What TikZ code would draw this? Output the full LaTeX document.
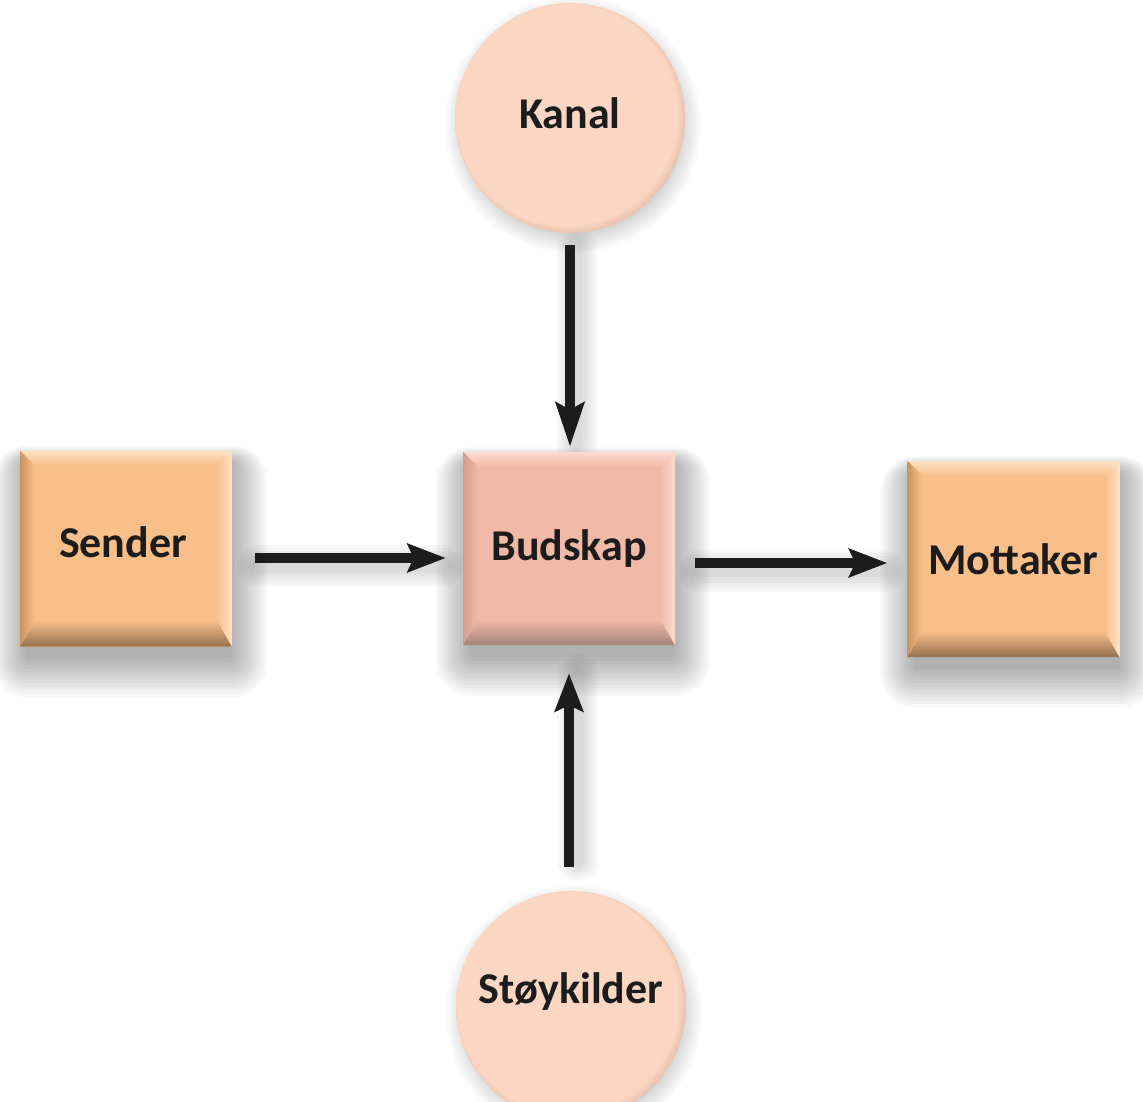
\documentclass[tikz,border=0pt]{standalone}
\usepackage{fontspec}
\setmainfont{Carlito}
\usetikzlibrary{arrows.meta,calc}

\definecolor{orfill}{HTML}{F9BF8A}
\definecolor{orlight}{HTML}{FDE2C6}
\definecolor{ordark}{HTML}{94704E}
\definecolor{orleft}{HTML}{C99461}
\definecolor{budfill}{HTML}{F2B9A7}
\definecolor{budlight}{HTML}{FADCD2}
\definecolor{buddark}{HTML}{A4857A}
\definecolor{budleft}{HTML}{D59D8B}
\definecolor{circfill}{HTML}{FBD7C3}
\definecolor{circrim}{HTML}{D9B5A2}
\definecolor{txt}{HTML}{1C1C1C}

\pgfdeclarelayer{bglayer}
\pgfdeclarelayer{shadowlayer}
\pgfsetlayers{bglayer,shadowlayer,main}

\pgfdeclareradialshading{circsh}{\pgfpoint{-1.5bp}{1.5bp}}{color(0bp)=(circfill); color(24bp)=(circfill); color(27bp)=(circrim); color(50bp)=(circrim)}

\newcommand\bevelstrips[4]{%
  \coordinate (bNW) at (path picture bounding box.north west);
  \coordinate (bNE) at (path picture bounding box.north east);
  \coordinate (bSW) at (path picture bounding box.south west);
  \coordinate (bSE) at (path picture bounding box.south east);
  \shade[top color=#2, bottom color=#1] (bNW) -- (bNE) -- ($(bNE)+(-15,15)$) -- ($(bNW)+(15,15)$) -- cycle;
  \shade[top color=#1, bottom color=#3] (bSW) -- (bSE) -- ($(bSE)+(-15,-26)$) -- ($(bSW)+(15,-26)$) -- cycle;
  \shade[left color=#4, right color=#1] (bNW) -- ($(bNW)+(15,15)$) -- ($(bSW)+(15,-26)$) -- (bSW) -- cycle;
  \shade[left color=#1, right color=#2] (bNE) -- ($(bNE)+(-15,15)$) -- ($(bSE)+(-15,-26)$) -- (bSE) -- cycle;
}

\newcommand\softboxshadow[1]{%
  \begin{pgfonlayer}{shadowlayer}
  \foreach \k in {0,...,11} {
    \fill[black, opacity=0.026, rounded corners=\k*3pt+2pt]
      ($(#1.north west)+(6-\k*3, 12-\k*1.5)$) rectangle ($(#1.south east)+(\k*3.2, 12+\k*3.5)$);
  }
  \end{pgfonlayer}}

\newcommand\softcircshadow[1]{%
  \begin{pgfonlayer}{shadowlayer}
  \foreach \k in {0,...,8} {
    \fill[black, opacity=0.018] ($(#1.center)+(3,7)$) circle[radius=108+\k*2.5];
  }
  \end{pgfonlayer}}

\begin{document}
\begin{tikzpicture}[x=1pt,y=-1pt,
  lblfont/.style={font=\bfseries\fontsize{44}{50}\selectfont, text=txt},
  obox/.style={rectangle, minimum width=212pt, minimum height=196pt, fill=orfill,
    path picture={\bevelstrips{orfill}{orlight}{ordark}{orleft}},
    lblfont, inner sep=0pt},
  bbox/.style={rectangle, minimum width=212pt, minimum height=193pt, fill=budfill,
    path picture={\bevelstrips{budfill}{budlight}{buddark}{budleft}},
    lblfont, inner sep=0pt},
  circ/.style={circle, minimum size=230pt, inner sep=0pt, shade, shading=circsh},
  lbl/.style={lblfont, inner sep=0pt},
  arr/.style={line width=9.5pt, draw=txt,
    -{Stealth[length=38pt,width=28pt,inset=6pt]}},
  arrlong/.style={line width=9.5pt, draw=txt,
    -{Stealth[length=44pt,width=28pt,inset=7pt]}},
  arrsh/.style={draw=black, opacity=0.022, line cap=round},
]
\begin{pgfonlayer}{bglayer}
\fill[white] (0,0) rectangle (1143,1102);
\end{pgfonlayer}
\useasboundingbox (0,0) rectangle (1143,1102);

\node[obox, text depth=12pt] (sender) at (126,548.5) {\hspace*{-6pt}Sender};
\node[bbox] (bud) at (569,548.5) {Budskap};
\node[obox] (mott) at (1013.5,559) {Mottaker};

\node[circ] (kanal) at (570,118) {};
\node[lbl] (kanaltxt) at (570,113) {Kanal};
\node[circ] (stoy) at (571,1006) {};
\node[lbl] (stoytxt) at (571,992) {Støykilder};

\softboxshadow{sender}
\softboxshadow{bud}
\softboxshadow{mott}
\softcircshadow{kanal}
\softcircshadow{stoy}

% arrow shadows
\begin{pgfonlayer}{shadowlayer}
\foreach \w in {12,18,...,42} {
  \draw[arrsh, line width=\w pt, shorten <=16pt, shorten >=10pt, transform canvas={xshift=7pt}]
    (kanal.south) -- (kanal.south |- bud.north);
  \draw[arrsh, line width=\w pt, shorten <=30pt, shorten >=30pt, transform canvas={xshift=7pt}]
    (stoy.north) -- (stoy.north |- bud.south);
  \draw[arrsh, line width=\w pt, shorten <=26pt, shorten >=20pt, transform canvas={yshift=-8pt}]
    ([yshift=-9.5pt]sender.east) -- ([yshift=-9.5pt]sender.east -| bud.west);
  \draw[arrsh, line width=\w pt, shorten <=24pt, shorten >=24pt, transform canvas={yshift=-8pt}]
    ([yshift=-14.5pt]bud.east) -- ([yshift=-14.5pt]bud.east -| mott.west);
}
\end{pgfonlayer}

\draw[arrlong, shorten <=12pt, shorten >=5pt] (kanal.south) -- (kanal.south |- bud.north);
\draw[arr, shorten <=24pt, shorten >=28pt] ([xshift=-2pt]stoy.north) -- ([xshift=-2pt]stoy.north |- bud.south);
\draw[arr, shorten <=23pt, shorten >=17pt] ([yshift=-9.5pt]sender.east) -- ([yshift=-9.5pt]sender.east -| bud.west);
\draw[arr, shorten <=20pt, shorten >=20pt] ([yshift=-14.5pt]bud.east) -- ([yshift=-14.5pt]bud.east -| mott.west);
\end{tikzpicture}
\end{document}
